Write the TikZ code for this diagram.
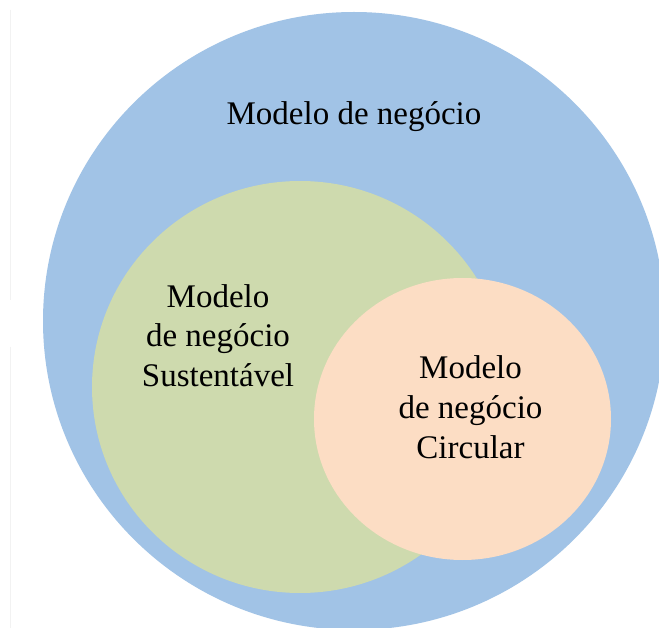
\documentclass[tikz,border=0pt]{standalone}
\usepackage{fontspec}
\setmainfont{Liberation Serif}
\definecolor{outerblue}{RGB}{161,195,230}
\definecolor{sustgreen}{RGB}{206,218,174}
\definecolor{circpeach}{RGB}{252,221,196}
\begin{document}
\begin{tikzpicture}[x=1pt,y=-1pt,
  lbl/.style={font=\fontsize{33}{38}\selectfont, anchor=base, inner sep=0pt, text=black}]
\useasboundingbox (0,0) rectangle (659,628);
\clip (0,0) rectangle (659,628);
\fill[white] (0,0) rectangle (659,628);
\draw[black!5, line width=0.8pt] (10,10) -- (10,300) (10,347) -- (10,628);
\fill[outerblue] (354,321) ellipse [x radius=311, y radius=309];
\fill[sustgreen] (300,387) ellipse [x radius=208, y radius=206];
\fill[circpeach] (462.5,419) ellipse [x radius=148.5, y radius=141];
\node[lbl] (mn) at (354,125) {Modelo de negócio};
\node[lbl] (s1) at (218,308) {Modelo};
\node[lbl] (s2) at (218,347) {de negócio};
\node[lbl] (s3) at (218,386.5) {Sustentável};
\node[lbl] (c1) at (470.5,378.5) {Modelo};
\node[lbl] (c2) at (470.5,418.5) {de negócio};
\node[lbl] (c3) at (470.5,458.5) {Circular};
\end{tikzpicture}
\end{document}
